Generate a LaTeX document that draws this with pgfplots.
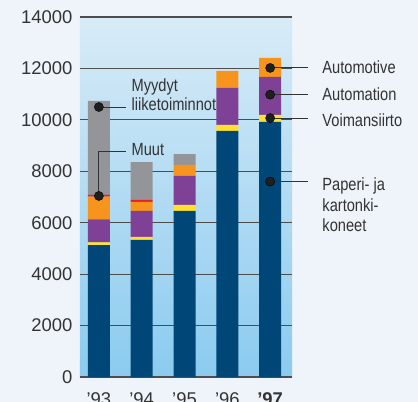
\documentclass[border=0pt]{standalone}
\usepackage{pgfplots}
\usepackage{pgfplotstable}
\pgfplotsset{compat=1.18}
\usepackage{fontspec}
\setmainfont{Liberation Sans}
\newfontfamily\condfont{Liberation Sans}[FakeStretch=0.83]
\definecolor{cPap}{HTML}{004677}
\definecolor{cVoi}{HTML}{FFE02A}
\definecolor{cAut}{HTML}{7F4196}
\definecolor{cAmo}{HTML}{F7941D}
\definecolor{cMuu}{HTML}{E5202A}
\definecolor{cMyy}{HTML}{939598}
\definecolor{txt}{HTML}{333333}
\definecolor{bgc}{HTML}{EEF4FA}
\definecolor{axTop}{HTML}{D8EBF7}
\definecolor{axBot}{HTML}{8BCBEF}
\definecolor{gridc}{HTML}{4D4D4D}

\pgfplotstableread{
x pap voi aut amo muu myy
0 5130 110 890 880 70 3655
1 5330 115 1015 350 90 1460
2 6460 230 1130 430 0 420
3 9570 230 1440 660 0 0
4 9920 270 1480 740 0 0
}\chartdata

\pgfplotstableread{
x y
0 10500
0 7040
4 12020
4 10980
4 10070
4 7600
}\annotdata

\begin{document}
\begin{tikzpicture}
\useasboundingbox (-80bp,-25bp) rectangle (338bp,377bp);
\fill[bgc] (-80bp,-25bp) rectangle (338bp,377bp);
\begin{axis}[
  at={(0,0)}, anchor=south west,
  scale only axis, width=212bp, height=360bp,
  ybar stacked, bar width=22bp,
  xmin=-0.44, xmax=4.51, ymin=0, ymax=14000,
  xtick={0,1,2,3,4},
  xticklabels={’93,’94,’95,’96,\textbf{’97}},
  ytick={0,2000,...,14000},
  scaled y ticks=false,
  ymajorgrids, grid style={gridc, line width=1.1bp},
  axis line style={draw=none}, major tick length=0pt,
  axis background/.style={shade, top color=axTop, bottom color=axBot},
  /pgf/number format/1000 sep={},
  /pgf/number format/assume math mode=true,
  tick label style={font=\fontsize{18.5}{20}\selectfont, text=txt},
  yticklabel style={xshift=-4bp},
  xticklabel style={yshift=-12bp},
  clip=false,
]
\addplot[fill=cPap, draw=none] table[x=x, y=pap]{\chartdata};
\addplot[fill=cVoi, draw=none] table[x=x, y=voi]{\chartdata};
\addplot[fill=cAut, draw=none] table[x=x, y=aut]{\chartdata};
\addplot[fill=cAmo, draw=none] table[x=x, y=amo]{\chartdata};
\addplot[fill=cMuu, draw=none] table[x=x, y=muu]{\chartdata};
\addplot[fill=cMyy, draw=none] table[x=x, y=myy]{\chartdata};
\end{axis}
\begin{axis}[
  at={(0,0)}, anchor=south west,
  scale only axis, width=212bp, height=360bp,
  xmin=-0.44, xmax=4.51, ymin=0, ymax=14000,
  hide axis, clip=false,
]
\draw[txt, line width=0.9bp] (axis cs:0,10500) -- (axis cs:0.644,10500);
\draw[txt, line width=0.9bp] (axis cs:0,7040) -- (axis cs:0,8765) -- (axis cs:0.644,8765);
\draw[txt, line width=0.9bp] (axis cs:4,12020) -- (axis cs:4.89,12020);
\draw[txt, line width=0.9bp] (axis cs:4,10980) -- (axis cs:4.89,10980);
\draw[txt, line width=0.9bp] (axis cs:4,10070) -- (axis cs:4.89,10070);
\draw[txt, line width=0.9bp] (axis cs:4,7600) -- (axis cs:4.89,7600);
\addplot[only marks, mark=*, mark size=4.6pt, draw=none, fill=black!88, mark options={draw=none, fill=black!88}] table[x=x, y=y]{\annotdata};
\begin{scope}[every node/.style={anchor=base west, inner sep=0pt, text=txt, font=\condfont\fontsize{17.7}{20}\selectfont}]
\node at (axis cs:0.76,11120) {Myydyt};
\node at (axis cs:0.76,10345) {liiketoiminnot};
\node at (axis cs:0.76,8610) {Muut};
\node at (axis cs:5.216,11785) {Automotive};
\node at (axis cs:5.216,10770) {Automation};
\node at (axis cs:5.216,9760) {Voimansiirto};
\node at (axis cs:5.216,7270) {Paperi- ja};
\node at (axis cs:5.216,6455) {kartonki-};
\node at (axis cs:5.216,5650) {koneet};
\end{scope}
\end{axis}
\end{tikzpicture}
\end{document}
